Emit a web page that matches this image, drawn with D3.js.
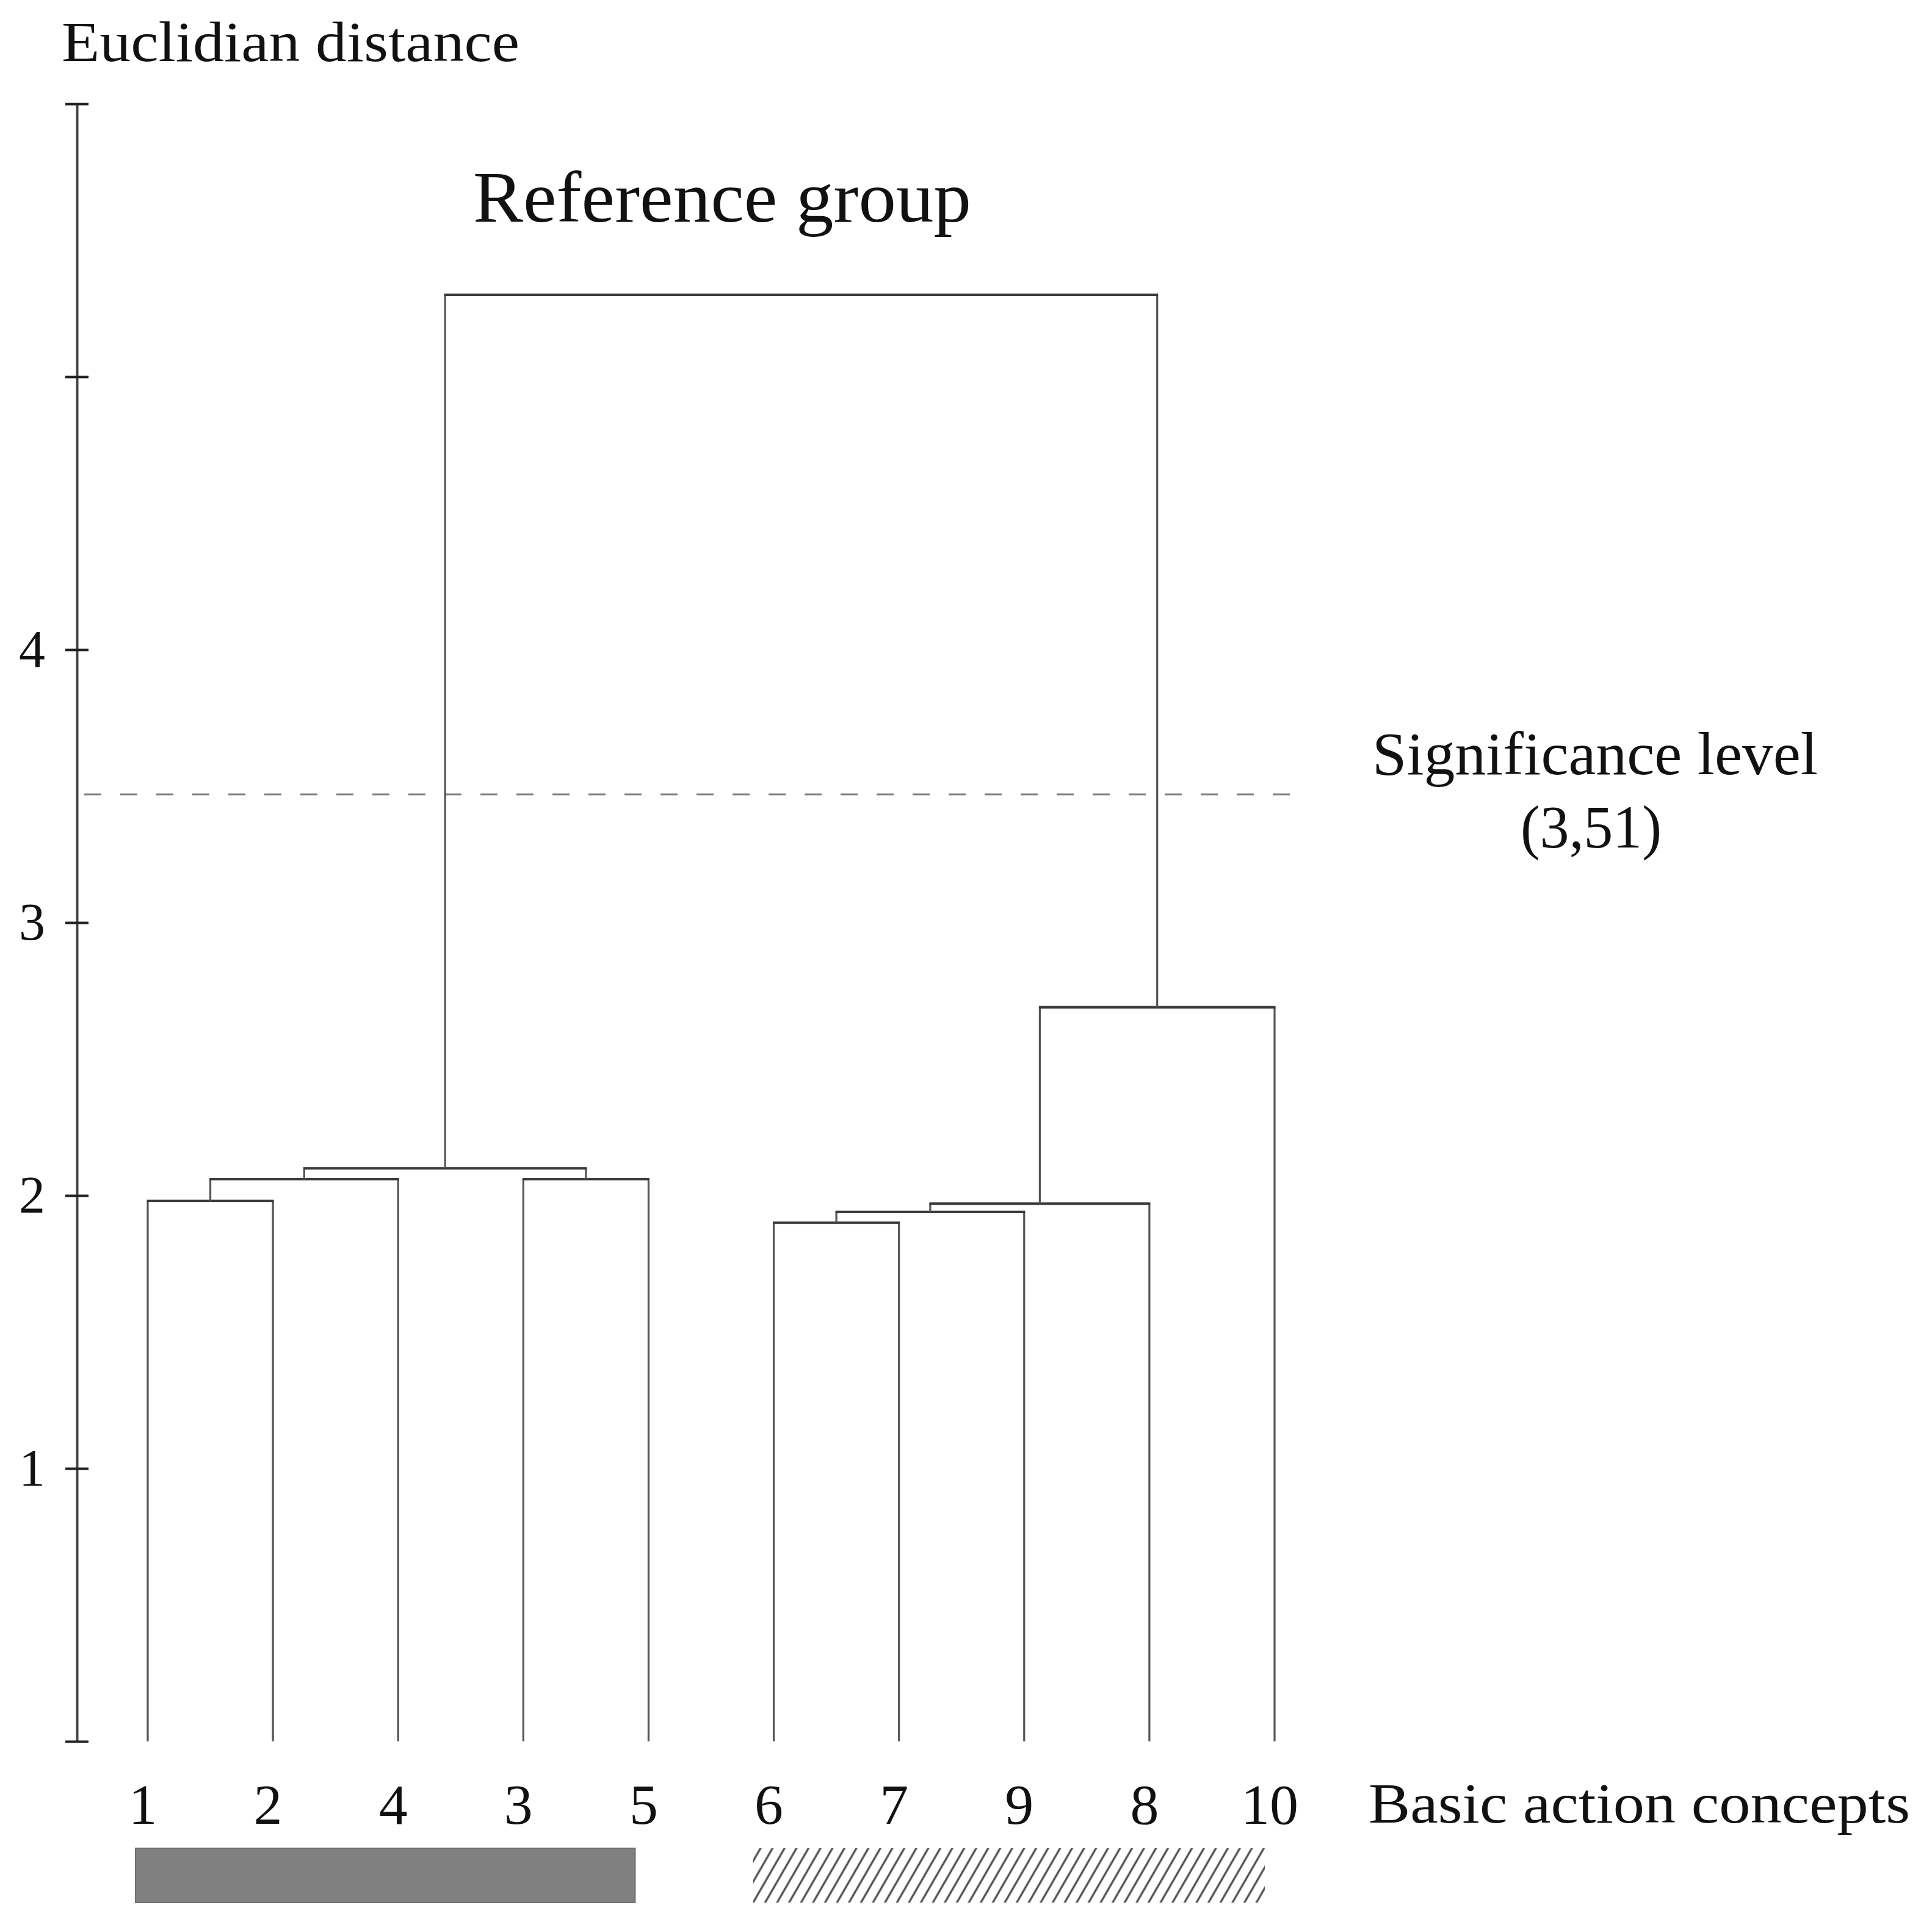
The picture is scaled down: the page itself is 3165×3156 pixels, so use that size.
<!DOCTYPE html>
<html>
<head>
<meta charset="utf-8">
<script src="https://cdn.jsdelivr.net/npm/d3@7"></script>
<style>
    body { margin: 0; background: #fff; }
    svg text { font-family: "Liberation Serif", "DejaVu Serif", serif; fill: #111; }
</style>
</head>
<body>
<svg id="chart" width="3165" height="3156"></svg>
<script>
// leaves in the order they sit along the bottom
const leafOrder = ["1", "2", "4", "3", "5", "6", "7", "9", "8", "10"];

// merges, bottom-up: id, left child, right child, distance
const mergeIds = ["a", "b", "c", "d", "e", "f", "g", "h", "root"];
const mergeLeft = ["1", "a", "3", "b", "6", "e", "f", "g", "d"];
const mergeRight = ["2", "4", "5", "c", "7", "9", "8", "10", "h"];
const mergeHeights = [1.98, 2.06, 2.06, 2.10, 1.90, 1.94, 1.97, 2.69, 5.30];

const yTicks = [0, 1, 2, 3, 4, 5, 6];
const yTickLabels = ["", "1", "2", "3", "4", "", ""];

const significanceValue = 3.47;
const significanceText = ["Significance level", "(3,51)"];

const groupFirst = ["1", "6"];
const groupLast = ["5", "10"];
const groupFill = ["solid", "hatch"];

const lineColor = "#3a3a3a";
const axisColor = "#444";
const dashColor = "#808080";

const svg = d3.select("#chart");
svg.append("rect").attr("width", 3165).attr("height", 3156).attr("fill", "#fff");

const x = d3.scalePoint().domain(leafOrder).range([242, 2088]);
const y = d3.scaleLinear().domain([0, 6]).range([2852, 170]);

// hatch pattern for the second group bar
const defs = svg.append("defs");
defs.append("pattern")
    .attr("id", "hatch")
    .attr("patternUnits", "userSpaceOnUse")
    .attr("width", 17)
    .attr("height", 17)
    .attr("patternTransform", "rotate(30)")
    .append("line")
    .attr("x1", 8.5).attr("y1", 0)
    .attr("x2", 8.5).attr("y2", 17)
    .attr("stroke", "#555")
    .attr("stroke-width", 3.4);

// node positions
let nodes = {};
leafOrder.forEach((id) => { nodes[id] = { x: x(id), h: 0 }; });
mergeIds.forEach((id, i) => {
    let l = nodes[mergeLeft[i]], r = nodes[mergeRight[i]];
    nodes[id] = { x: (l.x + r.x) / 2, h: mergeHeights[i], left: l, right: r };
});

// y axis
const axis = svg.append("g")
    .attr("transform", "translate(126,0)")
    .call(d3.axisLeft(y)
        .tickValues(yTicks)
        .tickFormat((d, i) => yTickLabels[i])
        .tickSizeOuter(0)
        .tickSizeInner(19)
        .tickPadding(33));

axis.select(".domain").attr("stroke", axisColor).attr("stroke-width", 4);
axis.selectAll(".tick line")
    .attr("x1", 19).attr("x2", -19)
    .attr("stroke", "#222").attr("stroke-width", 4);
axis.selectAll(".tick text")
    .attr("font-size", 86)
    .attr("font-family", "Liberation Serif, serif")
    .attr("fill", "#111");

// significance line
svg.append("line")
    .attr("x1", 138).attr("x2", 2120)
    .attr("y1", y(significanceValue)).attr("y2", y(significanceValue))
    .attr("stroke", dashColor)
    .attr("stroke-width", 3)
    .attr("stroke-dasharray", "28,31");

// dendrogram links
const links = svg.append("g").attr("fill", "none");
mergeIds.forEach((id) => {
    let n = nodes[id];
    [n.left, n.right].forEach((c) => {
        links.append("line")
            .attr("x1", c.x).attr("x2", c.x)
            .attr("y1", y(c.h)).attr("y2", y(n.h))
            .attr("stroke", "#555")
            .attr("stroke-width", 3.2);
    });
    links.append("line")
        .attr("x1", n.left.x - 1.5).attr("x2", n.right.x + 1.5)
        .attr("y1", y(n.h)).attr("y2", y(n.h))
        .attr("stroke", lineColor)
        .attr("stroke-width", 4.2);
});

// leaf labels
svg.append("g")
    .selectAll("text")
    .data(leafOrder)
    .join("text")
    .attr("x", (d) => x(d) - 8)
    .attr("y", 2987)
    .attr("text-anchor", "middle")
    .attr("font-size", 94)
    .text((d) => d);

// group bars
groupFirst.forEach((f, i) => {
    let solid = groupFill[i] == "solid";
    let x0 = x(f) - (solid ? 20 : 34);
    let x1 = x(groupLast[i]) - (solid ? 22 : 16);
    svg.append("rect")
        .attr("x", x0)
        .attr("y", 3027)
        .attr("width", x1 - x0)
        .attr("height", 89)
        .attr("fill", solid ? "#808080" : "url(#hatch)")
        .attr("stroke", solid ? "#6f6f6f" : "none")
        .attr("stroke-width", 2);
});

// texts
svg.append("text")
    .attr("x", 101).attr("y", 100)
    .attr("font-size", 94)
    .attr("textLength", 750)
    .attr("lengthAdjust", "spacingAndGlyphs")
    .text("Euclidian distance");

svg.append("text")
    .attr("x", 775).attr("y", 363)
    .attr("font-size", 118)
    .attr("textLength", 816)
    .attr("lengthAdjust", "spacingAndGlyphs")
    .text("Reference group");

svg.append("text")
    .attr("x", 2248).attr("y", 1268)
    .attr("font-size", 100)
    .attr("textLength", 730)
    .attr("lengthAdjust", "spacingAndGlyphs")
    .text(significanceText[0]);

svg.append("text")
    .attr("x", 2491).attr("y", 1388)
    .attr("font-size", 100)
    .attr("textLength", 231)
    .attr("lengthAdjust", "spacingAndGlyphs")
    .text(significanceText[1]);

svg.append("text")
    .attr("x", 2242).attr("y", 2985)
    .attr("font-size", 94)
    .attr("textLength", 887)
    .attr("lengthAdjust", "spacingAndGlyphs")
    .text("Basic action concepts");
</script>
</body>
</html>
